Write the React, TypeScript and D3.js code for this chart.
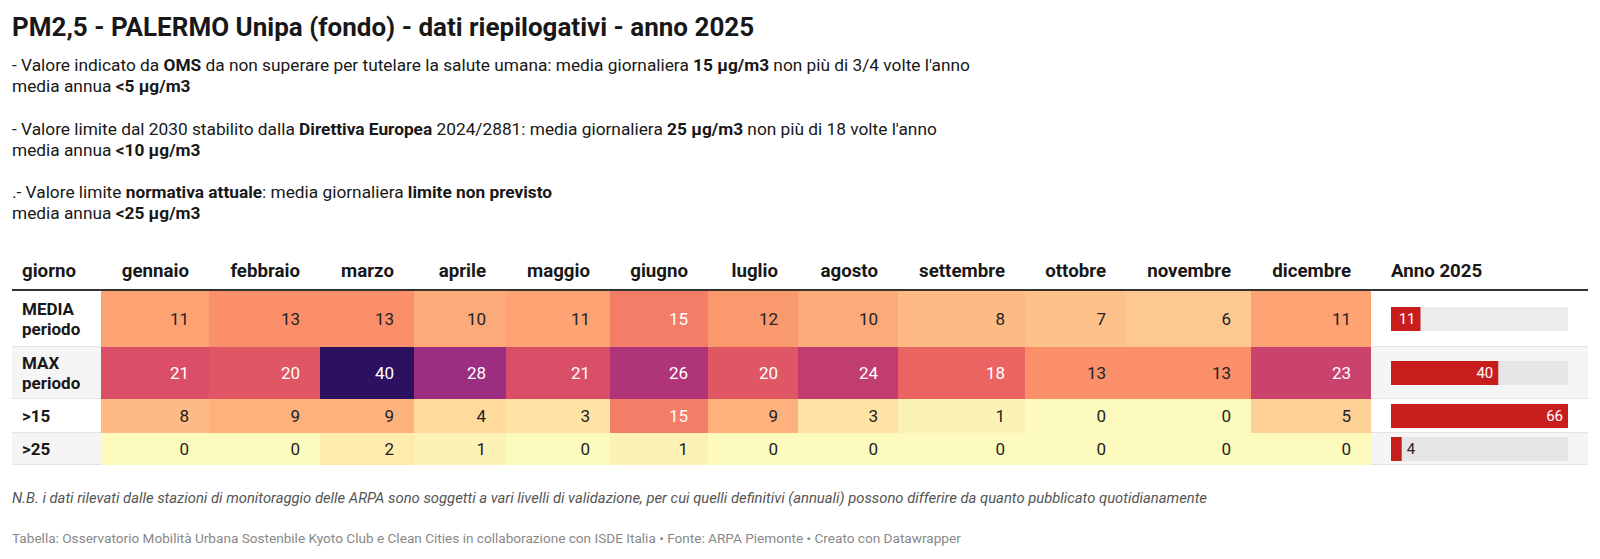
import React from 'react';
import * as d3 from 'd3';

const months = ['gennaio', 'febbraio', 'marzo', 'aprile', 'maggio', 'giugno', 'luglio', 'agosto', 'settembre', 'ottobre', 'novembre', 'dicembre'];
const rowLabels = [['MEDIA', 'periodo'], ['MAX', 'periodo'], ['>15'], ['>25']];
const mediaPeriodo = [11, 13, 13, 10, 11, 15, 12, 10, 8, 7, 6, 11];
const maxPeriodo = [21, 20, 40, 28, 21, 26, 20, 24, 18, 13, 13, 23];
const giorniOltre15 = [8, 9, 9, 4, 3, 15, 9, 3, 1, 0, 0, 5];
const giorniOltre25 = [0, 0, 2, 1, 0, 1, 0, 0, 0, 0, 0, 0];
const anno2025 = [11, 40, 66, 4];

const tableValues = [mediaPeriodo, maxPeriodo, giorniOltre15, giorniOltre25];

// layout
const FONT = 'Roboto, "Noto Sans", sans-serif';
const left = 12;
const right = 1588;
const labelW = 89;
const colW = [108, 111, 94, 92, 104, 98, 90, 100, 127, 101, 125, 120];
const rowH = [56, 52, 34, 32];
const ruleY = 290;

const colX: number[] = [];
colW.reduce((acc, w) => { colX.push(acc); return acc + w; }, left + labelW);
const heatEnd = colX[colX.length - 1] + colW[colW.length - 1];
const rowY: number[] = [];
rowH.reduce((acc, h) => { rowY.push(acc); return acc + h; }, ruleY + 1);

const color = d3.scaleLinear<string>()
  .domain([0, 1, 3, 5, 8, 11, 13, 15, 18, 21, 24, 28, 40])
  .range(['#fcfbbd', '#fdf2b5', '#fee3a5', '#fed096', '#fdba84', '#fca273', '#fa8f6a', '#f47d67', '#ea6562', '#da4f67', '#c13d70', '#9c2e7f', '#2c1160'])
  .interpolate(d3.interpolateLab)
  .clamp(true);

const barX = d3.scaleLinear().domain([0, d3.max(anno2025) as number]).range([heatEnd + 20, right - 20]);

const Line = ({ y, parts, size = 17.3, style }: { y: number; parts: [string, boolean][]; size?: number; style?: string }) => (
  <text x={left} y={y} fontSize={size} fill="#181818" fontStyle={style}>
    {parts.map(([t, b], i) => (
      <tspan key={i} fontWeight={b ? 700 : 400}>{t}</tspan>
    ))}
  </text>
);

export default function App() {
  const stripe = (r: number) => (r % 2 === 1 ? '#f5f5f5' : '#ffffff');
  return (
    <svg width={1600} height={559} style={{ position: 'absolute', left: 0, top: 0, background: '#fff' }} fontFamily={FONT}>
      <text x={left} y={36} fontSize={26} fontWeight={700} fill="#181818">PM2,5 - PALERMO Unipa (fondo) - dati riepilogativi - anno 2025</text>

      <Line y={71} parts={[['- Valore indicato da ', false], ['OMS', true], [' da non superare per tutelare la salute umana: media giornaliera ', false], ['15 µg/m3', true], [" non più di 3/4 volte l'anno", false]]} />
      <Line y={92} parts={[['media annua ', false], ['<5 µg/m3', true]]} />
      <Line y={135} parts={[['- Valore limite dal 2030 stabilito dalla ', false], ['Direttiva Europea', true], [' 2024/2881: media giornaliera ', false], ['25 µg/m3', true], [" non più di 18 volte l'anno", false]]} />
      <Line y={156} parts={[['media annua ', false], ['<10 µg/m3', true]]} />
      <Line y={198} parts={[['.- Valore limite ', false], ['normativa attuale', true], [': media giornaliera ', false], ['limite non previsto', true]]} />
      <Line y={219} parts={[['media annua ', false], ['<25 µg/m3', true]]} />

      {/* header */}
      <text x={left + 10} y={277} fontSize={18.7} fontWeight={700} fill="#181818">giorno</text>
      {months.map((m, i) => (
        <text key={m} x={colX[i] + colW[i] - 20} y={277} fontSize={18.7} fontWeight={700} fill="#181818" textAnchor="end">{m}</text>
      ))}
      <text x={barX(0)} y={277} fontSize={18.7} fontWeight={700} fill="#181818">Anno 2025</text>
      <line x1={left} x2={right} y1={ruleY} y2={ruleY} stroke="#333" strokeWidth={2} />

      {/* rows */}
      {tableValues.map((vals, r) => {
        const y = rowY[r];
        const h = rowH[r];
        const cy = y + h / 2;
        const lbl = rowLabels[r];
        return (
          <g key={r}>
            <rect x={left} y={y} width={labelW} height={h} fill={stripe(r)} />
            <rect x={heatEnd} y={y} width={right - heatEnd} height={h} fill={stripe(r)} />
            <line x1={left} x2={left + labelW} y1={y + h - 0.5} y2={y + h - 0.5} stroke="#e4e4e4" />
            <line x1={heatEnd} x2={right} y1={y + h - 0.5} y2={y + h - 0.5} stroke="#e4e4e4" />
            {lbl.map((t, k) => (
              <text key={k} x={left + 10} y={cy + (k - (lbl.length - 1) / 2) * 20} dy="0.35em" fontSize={17} fontWeight={700} fill="#181818">{t}</text>
            ))}
            {vals.map((v, i) => (
              <g key={i}>
                <rect x={colX[i]} y={y} width={colW[i]} height={h} fill={color(v)} />
                <text x={colX[i] + colW[i] - 20} y={cy} dy="0.35em" fontSize={17} textAnchor="end" fill={v >= 15 ? '#ffffff' : '#222'}>{v}</text>
              </g>
            ))}
            <rect x={barX(0)} y={cy - 12} width={barX.range()[1] - barX(0)} height={24} fill={r % 2 === 1 ? '#e6e6e6' : '#ececec'} />
            <rect x={barX(0)} y={cy - 12} width={barX(anno2025[r]) - barX(0)} height={24} fill="#c71e1d" />
            {barX(anno2025[r]) - barX(0) > 24 ? (
              <text x={barX(anno2025[r]) - 5} y={cy} dy="0.35em" fontSize={15} textAnchor="end" fill="#fff">{anno2025[r]}</text>
            ) : (
              <text x={barX(anno2025[r]) + 5} y={cy} dy="0.35em" fontSize={15} fill="#222">{anno2025[r]}</text>
            )}
          </g>
        );
      })}

      <text x={left} y={503} fontSize={14.8} fontStyle="italic" fill="#555">N.B. i dati rilevati dalle stazioni di monitoraggio delle ARPA sono soggetti a vari livelli di validazione, per cui quelli definitivi (annuali) possono differire da quanto pubblicato quotidianamente</text>
      <text x={left} y={543} fontSize={13.6} fill="#888">Tabella: Osservatorio Mobilità Urbana Sostenbile Kyoto Club e Clean Cities in collaborazione con ISDE Italia • Fonte: ARPA Piemonte • Creato con Datawrapper</text>
    </svg>
  );
}
